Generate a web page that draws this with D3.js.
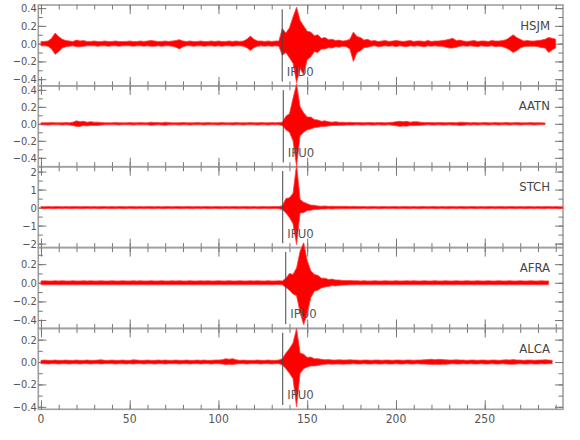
<!DOCTYPE html>
<html>
<head>
<meta charset="utf-8">
<script src="https://cdn.jsdelivr.net/npm/d3@7"></script>
<style>
  body { margin: 0; background: #fff; }
  text { font-family: "Liberation Sans Narrow", "DejaVu Sans Condensed", "Roboto Condensed", sans-serif; font-stretch: condensed; }
</style>
</head>
<body>
<div id="vis"></div>
<script>
const FRAME_WIDTH = 580;
const FRAME_HEIGHT = 440;
const MARGINS = {left: 38.3, right: 17, top: 5, bottom: 30.7};
const PANEL_H = (FRAME_HEIGHT - MARGINS.top - MARGINS.bottom) / 5;

// station names, pick names and pick times (s)
const STATIONS = ['HSJM', 'AATN', 'STCH', 'AFRA', 'ALCA'];
const PICK_LABELS = ['IPD0', 'IPU0', 'IPU0', 'IPU0', 'IPU0'];
const PICK_TIMES = [135.9, 136.5, 136.2, 137.9, 136.2];

// x axis
const X_DOMAIN = [-1.5, 294.1];
const X_LABELS = [0, 50, 100, 150, 200, 250];

// y axes, one per station
const Y_DOMAINS = [[-0.475, 0.435], [-0.505, 0.447], [-2.22, 2.27], [-0.49, 0.378], [-0.422, 0.30]];
const Y_LABELS = [
  [-0.4, -0.2, 0, 0.2, 0.4],
  [-0.4, -0.2, 0, 0.2, 0.4],
  [-2, -1, 0, 1, 2],
  [-0.4, -0.2, 0, 0.2],
  [-0.4, -0.2, 0, 0.2]
];
const Y_MINOR_STEP = [0.1, 0.1, 0.5, 0.1, 0.1];

// trace envelopes (upper / lower peak amplitude), one sample every 2 s from t = 0
const DT = 2;

const HSJM_HI = [
  0.025,0.025,0.03,0.06,0.12,0.08,0.05,0.035,0.03,0.025,
  0.04,0.03,0.035,0.025,0.025,0.03,0.025,0.025,0.03,0.025,
  0.025,0.03,0.025,0.025,0.025,0.03,0.025,0.025,0.03,0.025,
  0.03,0.035,0.03,0.025,0.025,0.03,0.025,0.03,0.035,0.045,
  0.03,0.025,0.03,0.025,0.025,0.03,0.025,0.025,0.03,0.025,
  0.03,0.025,0.025,0.03,0.025,0.03,0.025,0.03,0.05,0.085,
  0.05,0.03,0.03,0.025,0.03,0.025,0.03,0.03,0.17,0.12,
  0.18,0.3,0.41,0.26,0.2,0.14,0.13,0.09,0.1,0.06,
  0.07,0.045,0.05,0.035,0.04,0.03,0.035,0.05,0.13,0.08,
  0.07,0.04,0.05,0.03,0.035,0.025,0.03,0.035,0.025,0.03,
  0.035,0.03,0.025,0.03,0.035,0.025,0.03,0.03,0.025,0.035,
  0.025,0.03,0.03,0.035,0.04,0.05,0.06,0.035,0.04,0.03,
  0.025,0.03,0.035,0.025,0.03,0.03,0.025,0.035,0.03,0.03,
  0.035,0.045,0.07,0.1,0.07,0.05,0.03,0.035,0.03,0.03,
  0.035,0.04,0.05,0.07,0.06,0.05
];
const HSJM_LO = [
  -0.025,-0.025,-0.03,-0.06,-0.12,-0.09,-0.05,-0.035,-0.03,-0.025,
  -0.035,-0.035,-0.03,-0.025,-0.025,-0.025,-0.03,-0.025,-0.025,-0.03,
  -0.025,-0.025,-0.03,-0.025,-0.025,-0.025,-0.03,-0.025,-0.025,-0.03,
  -0.025,-0.03,-0.03,-0.025,-0.03,-0.025,-0.025,-0.03,-0.04,-0.06,
  -0.035,-0.025,-0.025,-0.03,-0.025,-0.025,-0.03,-0.025,-0.025,-0.03,
  -0.025,-0.03,-0.025,-0.025,-0.03,-0.025,-0.025,-0.03,-0.045,-0.078,
  -0.045,-0.03,-0.025,-0.03,-0.025,-0.03,-0.025,-0.03,-0.13,-0.1,
  -0.16,-0.22,-0.44,-0.28,-0.35,-0.18,-0.15,-0.09,-0.1,-0.06,
  -0.06,-0.045,-0.05,-0.035,-0.04,-0.03,-0.035,-0.06,-0.2,-0.1,
  -0.08,-0.045,-0.04,-0.03,-0.025,-0.035,-0.03,-0.025,-0.03,-0.025,
  -0.035,-0.025,-0.03,-0.035,-0.025,-0.03,-0.025,-0.03,-0.035,-0.025,
  -0.03,-0.025,-0.03,-0.03,-0.04,-0.05,-0.05,-0.04,-0.03,-0.025,
  -0.03,-0.025,-0.03,-0.035,-0.025,-0.03,-0.03,-0.025,-0.035,-0.03,
  -0.035,-0.05,-0.07,-0.1,-0.08,-0.05,-0.035,-0.03,-0.03,-0.03,
  -0.035,-0.045,-0.05,-0.1,-0.07,-0.05
];

const AATN_HI = [
  0.012,0.012,0.012,0.015,0.012,0.012,0.012,0.015,0.012,0.02,
  0.035,0.025,0.03,0.02,0.025,0.02,0.02,0.015,0.012,0.012,
  0.012,0.015,0.012,0.012,0.012,0.015,0.012,0.012,0.015,0.012,
  0.012,0.02,0.015,0.015,0.012,0.02,0.015,0.012,0.012,0.012,
  0.015,0.012,0.012,0.012,0.015,0.012,0.012,0.015,0.012,0.012,
  0.012,0.015,0.012,0.012,0.012,0.015,0.012,0.012,0.012,0.015,
  0.012,0.012,0.015,0.012,0.012,0.015,0.012,0.015,0.02,0.09,
  0.12,0.3,0.47,0.2,0.13,0.08,0.08,0.05,0.045,0.03,
  0.035,0.025,0.02,0.025,0.018,0.02,0.015,0.018,0.015,0.015,
  0.015,0.012,0.015,0.015,0.012,0.015,0.015,0.012,0.015,0.018,
  0.025,0.03,0.025,0.03,0.02,0.025,0.025,0.018,0.015,0.015,
  0.015,0.012,0.015,0.015,0.012,0.015,0.015,0.012,0.02,0.018,
  0.015,0.012,0.015,0.012,0.012,0.015,0.012,0.012,0.015,0.012,
  0.012,0.015,0.012,0.012,0.015,0.012,0.012,0.012,0.015,0.012,
  0.012,0.012,0.01
];
const AATN_LO = [
  -0.012,-0.012,-0.015,-0.012,-0.012,-0.012,-0.015,-0.012,-0.015,-0.02,
  -0.03,-0.03,-0.02,-0.025,-0.02,-0.02,-0.02,-0.015,-0.012,-0.012,
  -0.012,-0.012,-0.015,-0.012,-0.012,-0.012,-0.015,-0.012,-0.012,-0.012,
  -0.012,-0.018,-0.015,-0.012,-0.015,-0.018,-0.012,-0.012,-0.012,-0.015,
  -0.012,-0.012,-0.015,-0.012,-0.012,-0.012,-0.015,-0.012,-0.012,-0.012,
  -0.015,-0.012,-0.012,-0.012,-0.015,-0.012,-0.012,-0.015,-0.012,-0.012,
  -0.012,-0.015,-0.012,-0.012,-0.015,-0.012,-0.012,-0.012,-0.02,-0.07,
  -0.1,-0.2,-0.5,-0.14,-0.1,-0.07,-0.06,-0.045,-0.04,-0.03,
  -0.03,-0.025,-0.02,-0.02,-0.018,-0.018,-0.015,-0.015,-0.015,-0.012,
  -0.015,-0.015,-0.012,-0.015,-0.015,-0.012,-0.015,-0.015,-0.012,-0.018,
  -0.022,-0.03,-0.025,-0.028,-0.02,-0.022,-0.02,-0.018,-0.015,-0.012,
  -0.015,-0.015,-0.012,-0.015,-0.015,-0.012,-0.015,-0.015,-0.02,-0.018,
  -0.012,-0.015,-0.012,-0.015,-0.012,-0.012,-0.015,-0.012,-0.012,-0.015,
  -0.012,-0.012,-0.015,-0.012,-0.012,-0.015,-0.012,-0.012,-0.012,-0.015,
  -0.012,-0.01,-0.01
];

const STCH_HI = [
  0.06,0.05,0.06,0.05,0.06,0.06,0.05,0.06,0.05,0.06,
  0.06,0.05,0.06,0.06,0.05,0.06,0.05,0.06,0.06,0.05,
  0.06,0.05,0.06,0.06,0.05,0.06,0.06,0.05,0.06,0.05,
  0.06,0.06,0.05,0.06,0.05,0.06,0.06,0.05,0.06,0.06,
  0.05,0.06,0.06,0.05,0.06,0.05,0.06,0.06,0.05,0.06,
  0.06,0.05,0.06,0.05,0.06,0.06,0.05,0.06,0.06,0.05,
  0.06,0.05,0.06,0.06,0.05,0.06,0.06,0.06,0.1,0.5,
  0.55,0.8,2.4,0.45,0.3,0.22,0.14,0.13,0.09,0.08,
  0.09,0.07,0.08,0.07,0.07,0.07,0.07,0.06,0.07,0.06,
  0.06,0.06,0.05,0.06,0.06,0.05,0.06,0.06,0.05,0.06,
  0.06,0.05,0.06,0.06,0.05,0.06,0.05,0.06,0.06,0.05,
  0.06,0.06,0.05,0.06,0.05,0.06,0.06,0.05,0.06,0.06,
  0.05,0.06,0.06,0.05,0.06,0.05,0.06,0.06,0.05,0.06,
  0.06,0.05,0.06,0.06,0.05,0.06,0.05,0.06,0.06,0.05,
  0.06,0.05,0.06,0.06,0.05,0.06,0.05,0.05
];
const STCH_LO = [
  -0.05,-0.06,-0.05,-0.06,-0.06,-0.05,-0.06,-0.05,-0.06,-0.06,
  -0.05,-0.06,-0.06,-0.05,-0.06,-0.05,-0.06,-0.06,-0.05,-0.06,
  -0.06,-0.06,-0.05,-0.06,-0.06,-0.05,-0.06,-0.06,-0.05,-0.06,
  -0.05,-0.06,-0.06,-0.05,-0.06,-0.06,-0.05,-0.06,-0.05,-0.06,
  -0.06,-0.05,-0.06,-0.06,-0.05,-0.06,-0.05,-0.06,-0.06,-0.05,
  -0.06,-0.06,-0.05,-0.06,-0.05,-0.06,-0.06,-0.05,-0.06,-0.06,
  -0.05,-0.06,-0.06,-0.05,-0.06,-0.06,-0.05,-0.06,-0.1,-0.3,
  -0.55,-0.9,-2.05,-0.3,-0.28,-0.16,-0.15,-0.1,-0.1,-0.08,
  -0.08,-0.07,-0.08,-0.07,-0.07,-0.06,-0.07,-0.06,-0.06,-0.06,
  -0.06,-0.05,-0.06,-0.06,-0.05,-0.06,-0.06,-0.05,-0.06,-0.05,
  -0.06,-0.06,-0.05,-0.06,-0.06,-0.05,-0.06,-0.06,-0.05,-0.06,
  -0.05,-0.06,-0.06,-0.05,-0.06,-0.06,-0.05,-0.06,-0.05,-0.06,
  -0.06,-0.05,-0.06,-0.06,-0.05,-0.06,-0.06,-0.05,-0.06,-0.05,
  -0.06,-0.06,-0.05,-0.06,-0.06,-0.05,-0.06,-0.06,-0.05,-0.06,
  -0.05,-0.06,-0.06,-0.05,-0.06,-0.05,-0.06,-0.05
];

const AFRA_HI = [
  0.02,0.022,0.02,0.02,0.022,0.02,0.022,0.02,0.02,0.022,
  0.02,0.02,0.022,0.02,0.022,0.02,0.02,0.022,0.02,0.02,
  0.022,0.02,0.02,0.022,0.02,0.02,0.022,0.02,0.022,0.02,
  0.02,0.022,0.02,0.02,0.022,0.02,0.02,0.022,0.02,0.022,
  0.02,0.02,0.022,0.02,0.02,0.022,0.02,0.022,0.02,0.02,
  0.022,0.02,0.02,0.022,0.02,0.02,0.022,0.02,0.02,0.022,
  0.02,0.022,0.02,0.02,0.022,0.02,0.02,0.022,0.02,0.05,
  0.1,0.09,0.16,0.34,0.43,0.24,0.13,0.09,0.08,0.05,
  0.05,0.035,0.04,0.03,0.03,0.025,0.025,0.025,0.022,0.022,
  0.02,0.022,0.02,0.02,0.022,0.02,0.02,0.022,0.02,0.02,
  0.022,0.02,0.02,0.022,0.02,0.022,0.02,0.02,0.022,0.02,
  0.02,0.022,0.02,0.02,0.022,0.02,0.02,0.022,0.02,0.02,
  0.022,0.02,0.02,0.022,0.02,0.02,0.022,0.02,0.02,0.022,
  0.02,0.02,0.022,0.02,0.02,0.022,0.02,0.02,0.022,0.02,
  0.02,0.022,0.02,0.02
];
const AFRA_LO = [
  -0.02,-0.02,-0.022,-0.02,-0.02,-0.022,-0.02,-0.02,-0.022,-0.02,
  -0.022,-0.02,-0.02,-0.022,-0.02,-0.02,-0.022,-0.02,-0.02,-0.022,
  -0.02,-0.02,-0.022,-0.02,-0.02,-0.022,-0.02,-0.022,-0.02,-0.02,
  -0.022,-0.02,-0.02,-0.022,-0.02,-0.02,-0.022,-0.02,-0.02,-0.02,
  -0.022,-0.02,-0.02,-0.022,-0.02,-0.02,-0.022,-0.02,-0.02,-0.022,
  -0.02,-0.02,-0.022,-0.02,-0.02,-0.022,-0.02,-0.02,-0.022,-0.02,
  -0.02,-0.02,-0.022,-0.02,-0.02,-0.022,-0.02,-0.02,-0.022,-0.05,
  -0.08,-0.12,-0.14,-0.32,-0.45,-0.33,-0.16,-0.09,-0.08,-0.055,
  -0.045,-0.04,-0.03,-0.035,-0.028,-0.025,-0.025,-0.022,-0.022,-0.02,
  -0.022,-0.02,-0.02,-0.022,-0.02,-0.02,-0.022,-0.02,-0.02,-0.022,
  -0.02,-0.022,-0.02,-0.02,-0.022,-0.02,-0.02,-0.022,-0.02,-0.02,
  -0.022,-0.02,-0.02,-0.022,-0.02,-0.02,-0.022,-0.02,-0.02,-0.022,
  -0.02,-0.02,-0.022,-0.02,-0.02,-0.022,-0.02,-0.02,-0.022,-0.02,
  -0.02,-0.022,-0.02,-0.02,-0.022,-0.02,-0.02,-0.022,-0.02,-0.02,
  -0.022,-0.02,-0.02,-0.02
];

const ALCA_HI = [
  0.015,0.018,0.015,0.015,0.018,0.015,0.015,0.018,0.015,0.015,
  0.018,0.015,0.015,0.018,0.015,0.015,0.018,0.02,0.015,0.015,
  0.018,0.015,0.015,0.018,0.015,0.015,0.02,0.018,0.015,0.015,
  0.018,0.015,0.015,0.018,0.015,0.018,0.015,0.015,0.018,0.015,
  0.015,0.018,0.015,0.015,0.018,0.015,0.018,0.015,0.015,0.018,
  0.018,0.02,0.03,0.025,0.03,0.02,0.015,0.018,0.015,0.015,
  0.015,0.018,0.015,0.015,0.018,0.015,0.015,0.018,0.03,0.08,
  0.12,0.17,0.3,0.08,0.07,0.04,0.045,0.03,0.03,0.025,
  0.02,0.022,0.018,0.018,0.02,0.018,0.018,0.02,0.018,0.018,
  0.015,0.018,0.018,0.015,0.018,0.018,0.015,0.018,0.018,0.015,
  0.018,0.018,0.015,0.018,0.018,0.015,0.018,0.018,0.02,0.022,
  0.025,0.02,0.025,0.022,0.02,0.018,0.018,0.02,0.018,0.018,
  0.015,0.018,0.018,0.015,0.018,0.018,0.015,0.018,0.018,0.015,
  0.018,0.02,0.018,0.022,0.018,0.018,0.015,0.018,0.018,0.015,
  0.018,0.018,0.02,0.018,0.015
];
const ALCA_LO = [
  -0.015,-0.015,-0.018,-0.015,-0.015,-0.018,-0.015,-0.015,-0.018,-0.015,
  -0.015,-0.018,-0.015,-0.015,-0.018,-0.015,-0.015,-0.018,-0.015,-0.015,
  -0.015,-0.018,-0.015,-0.015,-0.018,-0.015,-0.018,-0.015,-0.015,-0.018,
  -0.015,-0.015,-0.018,-0.015,-0.015,-0.018,-0.015,-0.015,-0.015,-0.018,
  -0.015,-0.015,-0.018,-0.015,-0.015,-0.018,-0.015,-0.015,-0.018,-0.015,
  -0.015,-0.018,-0.022,-0.02,-0.022,-0.018,-0.015,-0.015,-0.018,-0.015,
  -0.015,-0.015,-0.018,-0.015,-0.015,-0.018,-0.015,-0.015,-0.025,-0.06,
  -0.1,-0.15,-0.4,-0.1,-0.06,-0.045,-0.035,-0.035,-0.03,-0.025,
  -0.02,-0.018,-0.02,-0.018,-0.018,-0.02,-0.018,-0.018,-0.015,-0.018,
  -0.018,-0.015,-0.018,-0.018,-0.015,-0.018,-0.018,-0.015,-0.018,-0.018,
  -0.015,-0.018,-0.018,-0.015,-0.018,-0.018,-0.015,-0.018,-0.018,-0.02,
  -0.022,-0.02,-0.022,-0.02,-0.02,-0.018,-0.015,-0.018,-0.018,-0.015,
  -0.018,-0.015,-0.018,-0.018,-0.015,-0.018,-0.018,-0.015,-0.018,-0.018,
  -0.015,-0.018,-0.02,-0.02,-0.018,-0.015,-0.018,-0.018,-0.015,-0.018,
  -0.018,-0.015,-0.018,-0.015,-0.015
];

const TRACES_HI = [HSJM_HI, AATN_HI, STCH_HI, AFRA_HI, ALCA_HI];
const TRACES_LO = [HSJM_LO, AATN_LO, STCH_LO, AFRA_LO, ALCA_LO];

const FRAME_COLOR = '#a0a0a0';
const TEXT_COLOR = '#555';

const FRAME = d3.select('#vis')
  .append('svg')
    .attr('width', FRAME_WIDTH)
    .attr('height', FRAME_HEIGHT);

const X_SCALE = d3.scaleLinear()
  .domain(X_DOMAIN)
  .range([MARGINS.left, FRAME_WIDTH - MARGINS.right]);

const X_MINOR = d3.range(0, 291, 10);
const X_MAJOR = d3.range(0, 291, 50);

// inward ticks, no domain line
function styleAxis(g) {
  g.select('.domain').remove();
  g.selectAll('.tick line').attr('stroke', '#777').attr('stroke-width', 1);
}

STATIONS.forEach((name, i) => {
  const top = MARGINS.top + i * PANEL_H;
  const bottom = top + PANEL_H;
  const left = MARGINS.left;
  const right = FRAME_WIDTH - MARGINS.right;

  const Y_SCALE = d3.scaleLinear()
    .domain(Y_DOMAINS[i])
    .range([bottom, top]);

  const panel = FRAME.append('g').attr('class', 'panel');

  // frame
  panel.append('rect')
    .attr('x', left)
    .attr('y', top)
    .attr('width', right - left)
    .attr('height', PANEL_H)
    .attr('fill', 'none')
    .attr('stroke', FRAME_COLOR)
    .attr('stroke-width', 1.6);

  // x ticks on top and bottom edge
  [[X_MINOR, 4.5], [X_MAJOR, 9]].forEach(([vals, len]) => {
    panel.append('g')
      .attr('transform', 'translate(0,' + top + ')')
      .call(d3.axisTop(X_SCALE).tickValues(vals).tickSize(-len).tickFormat(''))
      .call(styleAxis);
    panel.append('g')
      .attr('transform', 'translate(0,' + bottom + ')')
      .call(d3.axisBottom(X_SCALE).tickValues(vals).tickSize(-len).tickFormat(''))
      .call(styleAxis);
  });

  // y ticks on both sides
  const step = Y_MINOR_STEP[i];
  const yMinor = d3.range(Math.ceil(Y_DOMAINS[i][0] / step), Math.floor(Y_DOMAINS[i][1] / step) + 1)
    .map(k => k * step);
  [[yMinor, 4.5], [Y_LABELS[i], 8]].forEach(([vals, len]) => {
    panel.append('g')
      .attr('transform', 'translate(' + left + ',0)')
      .call(d3.axisLeft(Y_SCALE).tickValues(vals).tickSize(-len).tickFormat(''))
      .call(styleAxis);
    panel.append('g')
      .attr('transform', 'translate(' + right + ',0)')
      .call(d3.axisRight(Y_SCALE).tickValues(vals).tickSize(-len).tickFormat(''))
      .call(styleAxis);
  });

  // y tick labels
  const fmt = i === 2 ? d3.format('d') : d3.format('.1f');
  panel.selectAll('.ylab')
    .data(Y_LABELS[i])
    .enter()
    .append('text')
      .attr('x', left - 1.5)
      .attr('y', d => Y_SCALE(d) + 4)
      .attr('text-anchor', 'end')
      .attr('font-size', '11px')
      .attr('fill', TEXT_COLOR)
      .text(d => fmt(d));

  // trace envelope
  const hi = TRACES_HI[i];
  const lo = TRACES_LO[i];
  const area = d3.area()
    .x((d, k) => X_SCALE(k * DT))
    .y0((d, k) => Y_SCALE(lo[k]))
    .y1(d => Y_SCALE(d));
  panel.append('path')
    .datum(hi)
    .attr('d', area)
    .attr('fill', '#ff0000')
    .attr('stroke', '#ff4040')
    .attr('stroke-width', 0.8);

  // pick marker
  const px = X_SCALE(PICK_TIMES[i]);
  panel.append('line')
    .attr('x1', px).attr('x2', px)
    .attr('y1', top + 4.3).attr('y2', bottom - 4.3)
    .attr('stroke', '#444')
    .attr('stroke-width', 1);
  panel.append('text')
    .attr('x', px + 4.5)
    .attr('y', bottom - 10)
    .attr('font-size', '13px')
    .attr('fill', TEXT_COLOR)
    .text(PICK_LABELS[i]);

  // station name
  panel.append('text')
    .attr('x', right - 13)
    .attr('y', top + 24.5)
    .attr('text-anchor', 'end')
    .attr('font-size', '13px')
    .attr('fill', '#444')
    .text(name);
});

// x tick labels under the last panel
const BOTTOM = FRAME_HEIGHT - MARGINS.bottom;
FRAME.selectAll('.xlab')
  .data(X_LABELS)
  .enter()
  .append('text')
    .attr('x', d => X_SCALE(d))
    .attr('y', BOTTOM + 14)
    .attr('text-anchor', 'middle')
    .attr('font-size', '12px')
    .attr('fill', TEXT_COLOR)
    .text(d => d);
</script>
</body>
</html>
